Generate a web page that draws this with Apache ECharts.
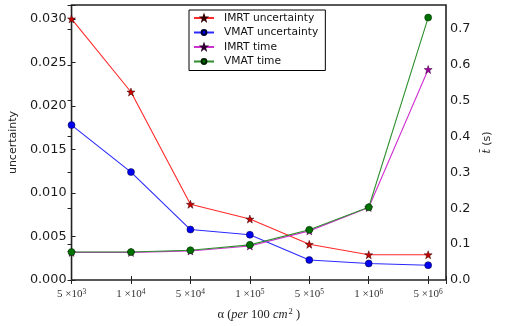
<!DOCTYPE html>
<html>
<head>
<meta charset="utf-8">
<script src="https://cdn.jsdelivr.net/npm/echarts@6/dist/echarts.min.js"></script>
<style>html,body{margin:0;padding:0;background:#fff;}#c{width:510px;height:326px;}</style>
</head>
<body>
<div id="c"></div>
<script>
// x tick labels: mantissa and exponent
var tickMant = ['5', '1', '5', '1', '5', '1', '5'];
var tickExp = ['3', '4', '4', '5', '5', '6', '6'];
var seriesNames = ['IMRT uncertainty', 'VMAT uncertainty', 'IMRT time', 'VMAT time'];
var imrtUnc = [0.0300, 0.0216, 0.0087, 0.0070, 0.0041, 0.0029, 0.0029];
var vmatUnc = [0.0178, 0.0124, 0.0058, 0.0052, 0.0023, 0.0019, 0.0017];
var imrtTime = [0.077, 0.077, 0.081, 0.095, 0.137, 0.202, 0.587];
var vmatTime = [0.078, 0.078, 0.083, 0.098, 0.140, 0.203, 0.732];

function pts(arr) { return arr.map(function (v, i) { return [i, v]; }); }
var star = 'path://M0,-10 L2.35,-3.24 L9.51,-3.09 L3.8,1.24 L5.88,8.09 L0,4 L-5.88,8.09 L-3.8,1.24 L-9.51,-3.09 L-2.35,-3.24 Z';
var frame = '#222';
var tickFont = {fontFamily: 'DejaVu Sans', fontSize: 12.8, color: '#1a1a1a'};

var chart = echarts.init(document.getElementById('c'), null, {renderer: 'canvas'});
chart.setOption({
  animation: false,
  grid: {left: 69, top: 5, width: 377, height: 280, show: true, borderColor: frame, borderWidth: 1.6, backgroundColor: 'transparent'},
  legend: {
    left: 189, top: 10, orient: 'vertical',
    data: seriesNames,
    backgroundColor: '#fff', borderColor: '#000', borderWidth: 1, borderRadius: 0,
    padding: [1, 7, 2, 4], itemGap: 0.5, itemWidth: 20, itemHeight: 6,
    textStyle: {fontFamily: 'DejaVu Sans', fontSize: 10.7, color: '#111', lineHeight: 14, padding: [0, 0, 0, 5]}
  },
  xAxis: [{
    type: 'value', min: 0, max: 6.3, interval: 1,
    position: 'bottom',
    name: '{n|α (}{i|per}{n| 100 }{i|cm}{s|2}{n| )}',
    nameLocation: 'middle', nameGap: 27,
    nameTextStyle: {rich: {
      n: {fontFamily: 'Liberation Serif', fontSize: 12.5, color: '#222'},
      i: {fontFamily: 'Liberation Serif', fontStyle: 'italic', fontSize: 12.5, color: '#222'},
      s: {fontFamily: 'Liberation Serif', fontSize: 8.5, color: '#222', verticalAlign: 'top', padding: [0, 0, 6, 1]}
    }},
    axisLine: {show: false},
    splitLine: {show: false},
    axisTick: {show: true, inside: true, length: 4, lineStyle: {color: frame, width: 1}},
    axisLabel: {
      margin: 8,
      formatter: function (v) {
        if (Math.abs(v - Math.round(v)) > 1e-6) return '';
        var i = Math.round(v);
        return '{m|' + tickMant[i] + ' ×10}{e|' + tickExp[i] + '}';
      },
      rich: {
        m: {fontFamily: 'Liberation Serif', fontSize: 11, color: '#333'},
        e: {fontFamily: 'Liberation Serif', fontSize: 7.5, color: '#333', verticalAlign: 'top', padding: [0, 0, 5, 0]}
      }
    }
  }, {
    type: 'value', min: 0, max: 6.3, interval: 1, position: 'top',
    axisLine: {show: false}, splitLine: {show: false}, axisLabel: {show: false},
    axisTick: {show: true, inside: true, length: 4, lineStyle: {color: frame, width: 1}}
  }],
  yAxis: [{
    type: 'value', min: 0, max: 0.0316, interval: 0.005, position: 'left',
    name: 'uncertainty', nameLocation: 'middle', nameGap: 46, nameRotate: 90,
    nameTextStyle: {fontFamily: 'DejaVu Sans', fontSize: 11, color: '#222'},
    axisLine: {show: false}, splitLine: {show: false},
    axisTick: {show: true, inside: true, length: 4, lineStyle: {color: frame, width: 1}},
    axisLabel: Object.assign({margin: 5, formatter: function (v) {
      var k = v / 0.005; if (Math.abs(k - Math.round(k)) > 1e-6) return '';
      return v.toFixed(3);
    }}, tickFont)
  }, {
    type: 'value', min: 0, max: 0.767, interval: 0.1, position: 'right',
    name: '{i|t\u0304}{n| (s)}', nameLocation: 'middle', nameGap: 32, nameRotate: 90,
    nameTextStyle: {rich: {
      i: {fontFamily: 'DejaVu Serif', fontStyle: 'italic', fontSize: 11, color: '#222'},
      n: {fontFamily: 'DejaVu Sans', fontSize: 11, color: '#222'}
    }},
    axisLine: {show: false}, splitLine: {show: false},
    axisTick: {show: true, inside: true, length: 4, lineStyle: {color: frame, width: 1}},
    axisLabel: Object.assign({margin: 4, formatter: function (v) {
      var k = v / 0.1; if (Math.abs(k - Math.round(k)) > 1e-6) return '';
      return v.toFixed(1);
    }}, tickFont)
  }],
  series: [{
    name: seriesNames[0], type: 'line', yAxisIndex: 0, data: pts(imrtUnc),
    symbol: star, symbolSize: 8,
    lineStyle: {color: '#ff2a2a', width: 1.1},
    itemStyle: {color: '#c80000', borderColor: '#300', borderWidth: 0.5}
  }, {
    name: seriesNames[1], type: 'line', yAxisIndex: 0, data: pts(vmatUnc),
    symbol: 'circle', symbolSize: 7,
    lineStyle: {color: '#2a2aff', width: 1.1},
    itemStyle: {color: '#0000f0', borderColor: '#000030', borderWidth: 0.5}
  }, {
    name: seriesNames[2], type: 'line', yAxisIndex: 1, data: pts(imrtTime),
    symbol: star, symbolSize: 8,
    lineStyle: {color: '#d030d0', width: 1.1},
    itemStyle: {color: '#a000a0', borderColor: '#300030', borderWidth: 0.5}
  }, {
    name: seriesNames[3], type: 'line', yAxisIndex: 1, data: pts(vmatTime),
    symbol: 'circle', symbolSize: 7,
    lineStyle: {color: '#2f8f2f', width: 1.1},
    itemStyle: {color: '#007000', borderColor: '#002000', borderWidth: 0.5}
  }]
});
</script>
</body>
</html>
